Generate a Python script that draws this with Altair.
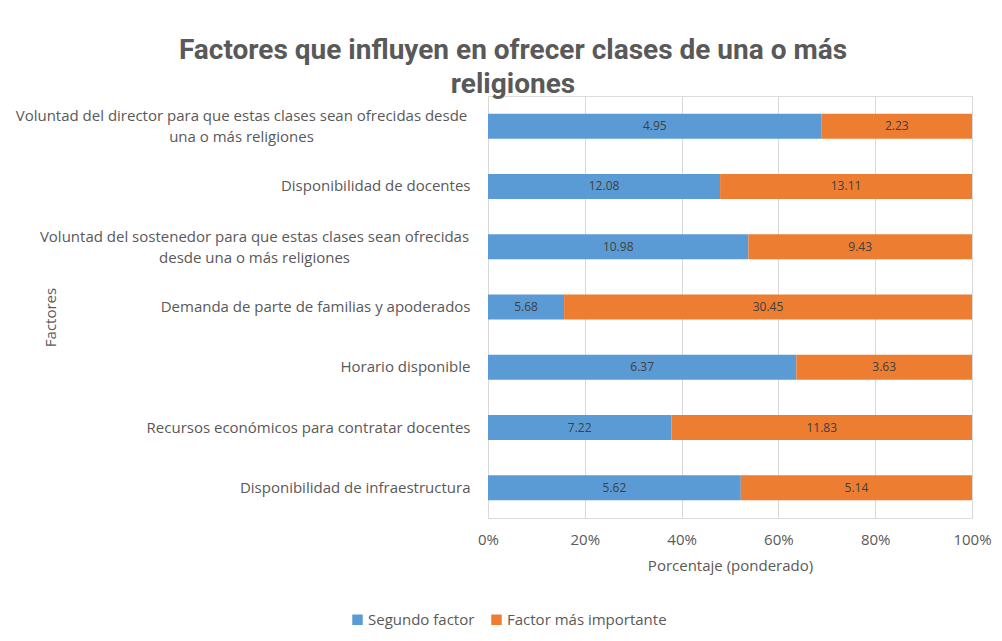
import altair as alt
import pandas as pd

categories = [
    "Voluntad del director para que estas clases sean ofrecidas desde|una o más religiones",
    "Disponibilidad de docentes",
    "Voluntad del sostenedor para que estas clases sean ofrecidas|desde una o más religiones",
    "Demanda de parte de familias y apoderados",
    "Horario disponible",
    "Recursos económicos para contratar docentes",
    "Disponibilidad de infraestructura",
]
series = ["Segundo factor", "Factor más importante"]
segundo = [4.95, 12.08, 10.98, 5.68, 6.37, 7.22, 5.62]
importante = [2.23, 13.11, 9.43, 30.45, 3.63, 11.83, 5.14]
colors = ["#5B9BD5", "#ED7D31"]
x_ticks = [0, 0.2, 0.4, 0.6, 0.8, 1.0]

rows = []
for c, s, i in zip(categories, segundo, importante):
    rows.append({"cat": c, "serie": series[0], "value": s, "order": 0, "lab": f"{s:.2f}"})
    rows.append({"cat": c, "serie": series[1], "value": i, "order": 1, "lab": f"{i:.2f}"})
df = pd.DataFrame(rows)

FONT = "Open Sans"
GRAY = "#595959"

t0 = f"datum.value == '{categories[0]}'"
t2 = f"datum.value == '{categories[2]}'"
label_align = {
    "condition": [{"test": t0, "value": "center"}, {"test": t2, "value": "center"}],
    "value": "right",
}
label_pad = {
    "condition": [{"test": t0, "value": 247}, {"test": t2, "value": 234}],
    "value": 18,
}
label_off = {
    "condition": [{"test": t0, "value": -10}, {"test": t2, "value": -10}],
    "value": 0,
}

y_enc = alt.Y(
    "cat:N",
    sort=categories,
    scale=alt.Scale(paddingInner=0.585, paddingOuter=0.2925),
    axis=alt.Axis(
        title="Factores",
        titleX=-438,
        titleY=221,
        titleBaseline="middle",
        titleFont=FONT,
        titleFontSize=15,
        titleFontWeight="normal",
        titleColor=GRAY,
        labelExpr="split(datum.label, '|')",
        labelLineHeight=21,
        labelFont=FONT,
        labelFontSize=15,
        labelColor=GRAY,
        labelAlign=label_align,
        labelPadding=label_pad,
        labelOffset=label_off,
        labelBaseline="middle",
        labelLimit=0,
        ticks=False,
        tickSize=0,
        domain=False,
        grid=False,
    ),
)

base = alt.Chart(df).transform_stack(
    stack="value",
    groupby=["cat"],
    as_=["x0", "x1"],
    offset="normalize",
    sort=[alt.SortField("order", order="ascending")],
).transform_calculate(xm="(datum.x0 + datum.x1) / 2")

bars = base.mark_bar().encode(
    y=y_enc,
    x=alt.X(
        "x0:Q",
        scale=alt.Scale(domain=[0, 1]),
        axis=alt.Axis(
            values=x_ticks,
            format="%",
            title="Porcentaje (ponderado)",
            titleFont=FONT,
            titleFontSize=15,
            titleFontWeight="normal",
            titleColor=GRAY,
            titlePadding=11,
            labelFont=FONT,
            labelFontSize=15,
            labelColor=GRAY,
            labelPadding=14,
            labelFlush=False,
            ticks=False,
            domain=False,
            grid=True,
            gridColor="#d9d9d9",
        ),
    ),
    x2="x1:Q",
    color=alt.Color(
        "serie:N",
        scale=alt.Scale(domain=series, range=colors),
        legend=alt.Legend(
            title=None,
            orient="none",
            legendX=-138,
            legendY=516,
            direction="horizontal",
            symbolType="square",
            symbolSize=110,
            symbolStrokeWidth=0,
            labelFont=FONT,
            labelFontSize=15,
            labelColor=GRAY,
            labelOffset=3,
            columnPadding=14,
        ),
    ),
)

texts = base.mark_text(font=FONT, fontSize=12, color="#404040").encode(
    y=alt.Y("cat:N", sort=categories),
    x=alt.X("xm:Q"),
    text="lab:N",
)

chart = (
    alt.layer(bars, texts)
    .properties(
        width=484,
        height=422,
        padding={"left": 480, "top": 88, "right": 22, "bottom": 115},
        autosize=alt.AutoSizeParams(type="none"),
        title=alt.TitleParams(
            text=["Factores que influyen en ofrecer clases de una o más", "religiones"],
            font="Roboto",
            fontSize=28,
            fontWeight="bold",
            color=GRAY,
            anchor="middle",
            dx=-217,
            dy=3,
            lineHeight=34,
            offset=0,
        ),
    )
    .configure_view(stroke=None)
    .configure(background="white")
)

chart.save("out.html", embed_options={"renderer": "svg", "actions": False})
